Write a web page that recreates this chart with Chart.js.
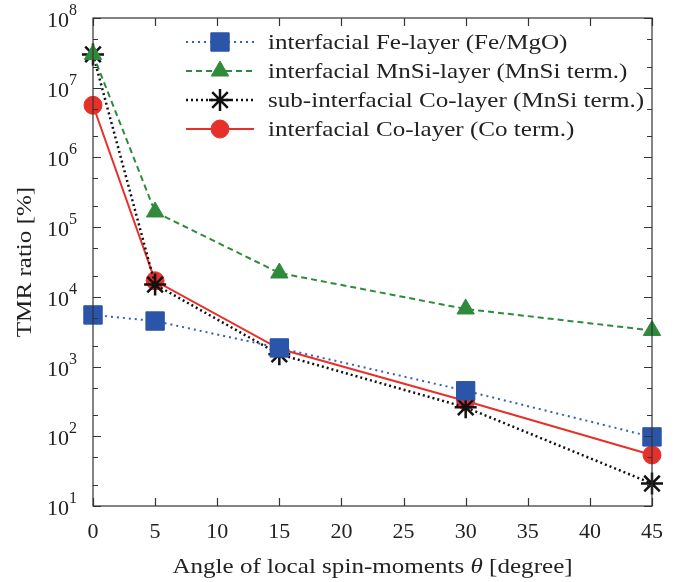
<!DOCTYPE html>
<html>
<head>
<meta charset="utf-8">
<script src="https://cdn.jsdelivr.net/npm/chart.js@4.4.1/dist/chart.umd.min.js"></script>
<style>
  html, body { margin: 0; padding: 0; background: #fff; }
  #wrap { width: 682px; height: 582px; }
</style>
</head>
<body>
<div id="wrap"><canvas id="tmrChart" width="682" height="582"></canvas></div>
<script>
// angles (degree)
var angles = [0, 5, 15, 30, 45];
var xTicks = [0, 5, 10, 15, 20, 25, 30, 35, 40, 45];
var yDecades = [1, 2, 3, 4, 5, 6, 7, 8];

// TMR ratio [%]
var feLayer   = [5500, 4500, 1850, 450, 98];
var mnsiLayer = [3.0e7, 1.65e5, 2.2e4, 6700, 3300];
var subCo     = [3.0e7, 1.5e4, 1500, 260, 21];
var coLayer   = [5.6e6, 1.7e4, 1800, 320, 54];

var seriesNames = [
  'interfacial Fe-layer (Fe/MgO)',
  'interfacial MnSi-layer (MnSi term.)',
  'sub-interfacial Co-layer (MnSi term.)',
  'interfacial Co-layer (Co term.)'
];

var serif = '"Liberation Serif", "DejaVu Serif", serif';
var stretch = 1.14; // the original lettering is a bit wider than Liberation Serif

function pts(ys) {
  return angles.map(function (a, i) { return { x: a, y: ys[i] }; });
}

// draw text stretched horizontally, x is left edge
function wideText(ctx, txt, x, y) {
  ctx.save();
  ctx.translate(x, y);
  ctx.scale(stretch, 1);
  ctx.fillText(txt, 0, 0);
  ctx.restore();
}

// frame, inward ticks, y labels, axis titles, legend
var framePlugin = {
  id: 'frame',
  afterDraw: function (chart) {
    var ctx = chart.ctx, a = chart.chartArea;
    var xs = chart.scales.x, ys = chart.scales.y;
    ctx.save();
    ctx.strokeStyle = '#333';
    ctx.lineWidth = 1.2;
    ctx.strokeRect(a.left, a.top, a.right - a.left, a.bottom - a.top);

    // x ticks, bottom and top
    xTicks.forEach(function (t) {
      var px = Math.round(xs.getPixelForValue(t)) + 0.5;
      ctx.beginPath();
      ctx.moveTo(px, a.bottom); ctx.lineTo(px, a.bottom - 8);
      ctx.moveTo(px, a.top); ctx.lineTo(px, a.top + 8);
      ctx.stroke();
    });
    // y ticks
    yDecades.forEach(function (d) {
      var py = Math.round(ys.getPixelForValue(Math.pow(10, d))) + 0.5;
      ctx.beginPath();
      ctx.moveTo(a.left, py); ctx.lineTo(a.left + 8, py);
      ctx.moveTo(a.right, py); ctx.lineTo(a.right - 8, py);
      ctx.stroke();
      if (d < 8) {
        [2, 5].forEach(function (m) {
          var my = Math.round(ys.getPixelForValue(m * Math.pow(10, d))) + 0.5;
          ctx.beginPath();
          ctx.moveTo(a.left, my); ctx.lineTo(a.left + 5, my);
          ctx.moveTo(a.right, my); ctx.lineTo(a.right - 5, my);
          ctx.stroke();
        });
      }
      // label 10^d
      ctx.fillStyle = '#222';
      ctx.textBaseline = 'middle';
      ctx.textAlign = 'left';
      ctx.font = '22px ' + serif;
      var w10 = ctx.measureText('10').width;
      ctx.font = '16px ' + serif;
      var wsup = ctx.measureText(String(d)).width;
      var x0 = a.left - 16 - w10 - wsup;
      ctx.font = '22px ' + serif;
      ctx.fillText('10', x0, py + 3);
      ctx.font = '16px ' + serif;
      ctx.fillText(String(d), x0 + w10, py - 8);
    });

    // y title
    ctx.fillStyle = '#222';
    ctx.save();
    ctx.translate(25, (a.top + a.bottom) / 2);
    ctx.rotate(-Math.PI / 2);
    ctx.textAlign = 'left';
    ctx.textBaseline = 'middle';
    ctx.font = '22px ' + serif;
    var wy = ctx.measureText('TMR ratio [%]').width * stretch;
    wideText(ctx, 'TMR ratio [%]', -wy / 2, 0);
    ctx.restore();

    // x title with italic theta
    var p1 = 'Angle of local spin-moments ', p2 = '\u03B8', p3 = ' [degree]';
    ctx.textBaseline = 'middle';
    ctx.textAlign = 'left';
    ctx.font = '22px ' + serif;
    var w1 = ctx.measureText(p1).width * stretch, w3 = ctx.measureText(p3).width * stretch;
    ctx.font = 'italic 22px ' + serif;
    var w2 = ctx.measureText(p2).width * stretch;
    var tx = (a.left + a.right) / 2 - (w1 + w2 + w3) / 2;
    ctx.font = '22px ' + serif;
    wideText(ctx, p1, tx, 567);
    ctx.font = 'italic 22px ' + serif;
    wideText(ctx, p2, tx + w1, 567);
    ctx.font = '22px ' + serif;
    wideText(ctx, p3, tx + w1 + w2, 567);

    // legend
    chart.data.datasets.forEach(function (ds, i) {
      var ly = 42 + i * 29;
      ctx.save();
      ctx.strokeStyle = ds.borderColor;
      ctx.lineWidth = ds.borderWidth;
      ctx.setLineDash(ds.borderDash || []);
      ctx.beginPath();
      ctx.moveTo(186, ly); ctx.lineTo(254, ly);
      ctx.stroke();
      ctx.setLineDash([]);
      ctx.fillStyle = ds.pointBackgroundColor;
      ctx.strokeStyle = ds.pointBorderColor;
      ctx.lineWidth = ds.pointBorderWidth || 1;
      Chart.helpers.drawPoint(ctx, {
        pointStyle: ds.pointStyle,
        radius: ds.pointRadius,
        borderWidth: ds.pointBorderWidth || 1
      }, 220, ly);
      ctx.restore();
      ctx.fillStyle = '#222';
      ctx.font = '22px ' + serif;
      ctx.textBaseline = 'middle';
      ctx.textAlign = 'left';
      wideText(ctx, ds.label, 268, ly + 1);
    });
    ctx.restore();
  }
};

var chart = new Chart(document.getElementById('tmrChart'), {
  type: 'line',
  data: {
    datasets: [
      {
        label: seriesNames[0], data: pts(feLayer),
        borderColor: '#3560b0', borderWidth: 2, borderDash: [2, 4],
        pointStyle: 'rect', pointRadius: 13,
        pointBackgroundColor: '#2a55a8', pointBorderColor: '#2a55a8', pointBorderWidth: 1
      },
      {
        label: seriesNames[1], data: pts(mnsiLayer),
        borderColor: '#2f8a3c', borderWidth: 2, borderDash: [6, 4],
        pointStyle: 'triangle', pointRadius: 10,
        pointBackgroundColor: '#2f8a3c', pointBorderColor: '#2f8a3c', pointBorderWidth: 1
      },
      {
        label: seriesNames[2], data: pts(subCo),
        borderColor: '#111', borderWidth: 2.5, borderDash: [2, 3],
        pointStyle: 'star', pointRadius: 11,
        pointBackgroundColor: '#111', pointBorderColor: '#111', pointBorderWidth: 2.5
      },
      {
        label: seriesNames[3], data: pts(coLayer),
        borderColor: '#e8302a', borderWidth: 2,
        pointStyle: 'circle', pointRadius: 9,
        pointBackgroundColor: '#e8302a', pointBorderColor: '#e8302a', pointBorderWidth: 1
      }
    ]
  },
  options: {
    responsive: false,
    animation: false,
    layout: { padding: { top: 18, right: 30, left: 0, bottom: 0 } },
    plugins: { legend: { display: false }, tooltip: { enabled: false } },
    elements: { line: { tension: 0 } },
    datasets: { line: { clip: false } },
    scales: {
      x: {
        type: 'linear', min: 0, max: 45,
        grid: { display: false },
        border: { display: false },
        afterBuildTicks: function (s) { s.ticks = xTicks.map(function (v) { return { value: v }; }); },
        afterFit: function (s) { s.height = 76; },
        ticks: { color: '#222', padding: 5, font: { family: serif, size: 22 } }
      },
      y: {
        type: 'logarithmic', min: 10, max: 1e8,
        grid: { display: false },
        border: { display: false },
        ticks: { display: false },
        afterFit: function (s) { s.width = 93; }
      }
    }
  },
  plugins: [framePlugin]
});
</script>
</body>
</html>
